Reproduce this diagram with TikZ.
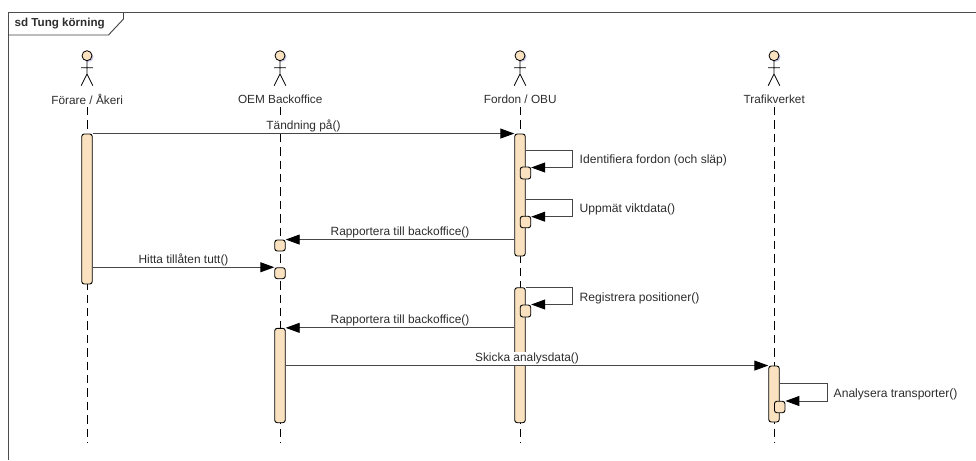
\documentclass[tikz,border=0pt]{standalone}
\usepackage{fontspec}
\setmainfont{Liberation Sans}
\usetikzlibrary{arrows.meta}

\definecolor{barfill}{RGB}{250,226,192}
\definecolor{msggray}{RGB}{70,70,70}
\definecolor{textgray}{RGB}{45,45,45}

\begin{document}
\begin{tikzpicture}[
  x=1pt, y=-1pt,
  every node/.style={inner sep=1pt},
  % actors, their lifelines and the activation bars
  actorname/.style={font=\fontsize{11.8}{13}\selectfont, text=textgray},
  stick/.style={line width=0.8pt},
  lifeline/.style={draw, line width=0.9pt, dash pattern=on 8.4pt off 5pt},
  bar/.style={draw, line width=0.9pt, fill=barfill, rounded corners=2.5pt, inner sep=0pt, minimum width=10.5pt},
  % the messages
  msg/.style={draw=msggray, line width=0.9pt, -{Triangle[length=14pt,width=10pt,color=black]}},
  msglabel/.style={font=\fontsize{11.9}{13}\selectfont, text=textgray, fill=white, anchor=base, yshift=4pt},
  selflabel/.style={font=\fontsize{12.1}{13}\selectfont, text=textgray, anchor=west}]

  \useasboundingbox (0,0) rectangle (976,460);

  % frame
  \coordinate (fa) at (8,13);
  \coordinate (fb) at (976,13);
  \coordinate (fd) at (8,460);
  \draw[line width=1pt, draw=black!70] (fb) -- (fa) -- (fd);
  \coordinate (ta) at (123.5,13);
  \coordinate (tb) at (123.5,19);
  \coordinate (tc) at (108.5,35);
  \coordinate (td) at (8,35);
  \draw[line width=0.9pt, draw=black!75] (ta) -- (tb) -- (tc) -- (td);
  \node[anchor=west, font=\bfseries\fontsize{11.6}{13}\selectfont, text=textgray] (title) at (13.5,24) {sd Tung körning};

  % actors
  \foreach \nm/\xx/\lbl in {driver/87/{Förare / Åkeri}, oem/280/{OEM Backoffice}, obu/520/{Fordon / OBU}, trv/774/{Trafikverket}} {
    \fill[blue!40!gray!30] (\xx+1.5,57) circle (5pt);
    \draw[stick, fill=barfill] (\xx,55.7) circle (5pt);
    \coordinate (\nm neck) at (\xx,60.7);
    \coordinate (\nm hip) at (\xx,74);
    \coordinate (\nm arml) at (\xx-5.8,67.7);
    \coordinate (\nm armr) at (\xx+5.8,67.7);
    \coordinate (\nm legl) at (\xx-5.8,85.7);
    \coordinate (\nm legr) at (\xx+5.8,85.7);
    \draw[stick] (\nm neck) -- (\nm hip) (\nm arml) -- (\nm armr) (\nm legl) -- (\nm hip) -- (\nm legr);
    \node[actorname] (\nm) at (\xx+0.2,99) {\lbl};
    \coordinate (\nm top) at (\xx,107);
    \coordinate (\nm end) at (\xx,442.5);
  }

  % lifelines
  \foreach \nm in {driver,oem,obu,trv}
    \draw[lifeline] (\nm top) -- (\nm end);

  % activation bars
  \node[bar, minimum height=150pt] (d1) at (87,209) {};
  \node[bar, minimum height=122pt] (o1) at (520,195) {};
  \node[bar, minimum height=135pt] (o2) at (520,355.2) {};
  \node[bar, minimum height=94.4pt] (b1) at (280,375.5) {};
  \node[bar, minimum height=56pt] (t1) at (774,394) {};
  \node[bar, minimum height=12pt] (o1a) at (525.5,173) {};
  \node[bar, minimum height=11.5pt] (o1b) at (525.5,222) {};
  \node[bar, minimum height=12pt] (o2a) at (525.5,311) {};
  \node[bar, minimum height=11pt] (b2) at (280,245.5) {};
  \node[bar, minimum height=11pt] (b3) at (280,273.2) {};
  \node[bar, minimum height=11.5pt] (t1a) at (779.7,407) {};

  % messages
  \draw[msg] (d1.north east) -- (o1.north west) node[msglabel, midway] (m1) {Tändning på()};
  \draw[msg] (o1.west |- b2.north) -- (b2.north east) node[msglabel, midway] (m2) {Rapportera till backoffice()};
  \draw[msg] (d1.east |- b3.north) -- (b3.north west) node[msglabel, midway] (m3) {Hitta tillåten tutt()};
  \draw[msg] (o2.west |- b1.north) -- (b1.north east) node[msglabel, midway] (m4) {Rapportera till backoffice()};
  \draw[msg] (b1.east |- t1.north) -- (t1.north west) node[msglabel, midway] (m5) {Skicka analysdata()};

  % self calls
  \coordinate (s1) at (572.7,150);
  \coordinate (s2) at (572.7,167.5);
  \coordinate (s3) at (572.7,199);
  \coordinate (s4) at (572.7,216.7);
  \coordinate (s5) at (572.7,287.5);
  \coordinate (s6) at (572.7,304.5);
  \coordinate (s7) at (827,383.5);
  \coordinate (s8) at (827,401);
  \draw[msg] (o1.east |- s1) -- (s1) -- (s2) -- (o1a.east |- s2);
  \draw[msg] (o1.east |- s3) -- (s3) -- (s4) -- (o1b.east |- s4);
  \draw[msg] (o2.east |- s5) -- (s5) -- (s6) -- (o2a.east |- s6);
  \draw[msg] (t1.east |- s7) -- (s7) -- (s8) -- (t1a.east |- s8);
  \node[selflabel] (l1) at (578.5,160) {Identifiera fordon (och släp)};
  \node[selflabel] (l2) at (578.5,209.5) {Uppmät viktdata()};
  \node[selflabel] (l3) at (578.5,298.5) {Registrera positioner()};
  \node[selflabel] (l4) at (832.5,394.5) {Analysera transporter()};
\end{tikzpicture}
\end{document}
